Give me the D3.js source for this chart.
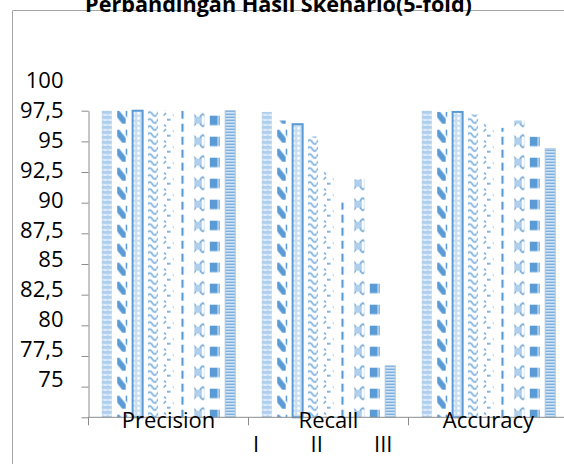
<!DOCTYPE html>
<html>
<head>
<meta charset="utf-8">
<script src="https://cdn.jsdelivr.net/npm/d3@7"></script>
<style>
  html, body { margin: 0; padding: 0; background: #fff; overflow: hidden; }
  svg { display: block; }
  svg text { font-family: "Open Sans", "DejaVu Sans", sans-serif; fill: #000; }
</style>
</head>
<body>
<svg id="chart" width="564" height="464"></svg>
<script>
// ---- data ----
const title = "Perbandingan Hasil Skenario(5-fold)";
const categories = ["Precision", "Recall", "Accuracy"];
const scenarios = ["I", "II", "III", "IV", "V", "VI", "VII", "VIII", "IX"];
const precision = [100, 100, 100, 100, 100, 100, 100, 100, 100];
const recall    = [99.9, 99.2, 98.9, 97.9, 95.2, 92.5, 94.4, 86.1, 79.2];
const accuracy  = [100, 99.9, 99.9, 99.7, 99.0, 98.6, 99.2, 97.9, 96.9];
const yTicks = [75, 77.5, 80, 82.5, 85, 87.5, 90, 92.5, 95, 97.5, 100];
const legendLabels = ["I", "II", "III"];

const table = categories.map((c, i) => ({
  category: c,
  values: [precision, recall, accuracy][i]
}));

// ---- layout ----
const W = 564, H = 464;
const svg = d3.select("#chart").attr("viewBox", `0 0 ${W} ${H}`);
const plotTop = 110.7, plotBottom = 417.3, plotLeft = 88.5;
const bandStep = 160;

const y = d3.scaleLinear().domain([75, 100]).range([plotBottom, plotTop]);
// tick labels sit on their own (slightly tighter) baseline grid
const yLabel = d3.scaleLinear().domain([75, 100]).range([387, 88]);
const x0 = d3.scaleBand().domain(categories)
  .range([plotLeft, plotLeft + bandStep * categories.length]).padding(0);
const x1 = d3.scaleBand().domain(scenarios)
  .range([0, bandStep]).paddingInner(0.35).paddingOuter(0.86);

const locale = d3.formatLocale({ decimal: ",", thousands: ".", grouping: [3], currency: ["", ""] });
const fmt = v => locale.format(Number.isInteger(v) ? "d" : ".1f")(v);

const dark = "#5B9BD5", pale = "#C6DDF2";

// ---- fill patterns, one per scenario ----
const defs = svg.append("defs");
function pattern(id, i, w, h, draw) {
  const p = defs.append("pattern")
    .attr("id", id)
    .attr("patternUnits", "userSpaceOnUse")
    .attr("x", x0(categories[0]) + x1(scenarios[i]))
    .attr("y", plotTop)
    .attr("width", w).attr("height", h);
  p.append("rect").attr("width", w).attr("height", h).attr("fill", "#fff");
  draw(p);
}
// I: light blocks
pattern("p0", 0, 5, 5, p => {
  p.append("rect").attr("x", 0).attr("y", 0).attr("width", 10).attr("height", 3.6).attr("fill", "#AFCFEC");
  p.append("rect").attr("x", 1).attr("y", 3.6).attr("width", 3).attr("height", 1.4).attr("fill", "#D5E6F6");
});
// II: bold downward diagonal dashes
pattern("p1", 1, 10, 19, p => {
  p.append("path").attr("d", "M0,0 L3.5,0 L10,8 L10,13 L6.5,13 L0,5 Z").attr("fill", dark);
});
// III: chain of small rings
pattern("p2", 2, 5, 5, p => {
  p.append("rect").attr("width", 5).attr("height", 5).attr("fill", pale);
  p.append("circle").attr("cx", 2.5).attr("cy", 2.5).attr("r", 1.5).attr("fill", "#fff");
});
// IV: waves
pattern("p3", 3, 10, 7, p => {
  p.append("path").attr("d", "M0,4 C2,0.5 4,0.5 5.5,3 S8.5,6.5 10,4")
    .attr("fill", "none").attr("stroke", "#6FA8DC").attr("stroke-width", 1.5);
});
// V: scattered small dashes
pattern("p4", 4, 10, 16, p => {
  p.append("path").attr("d", "M1,5 L4,2.5 M5,9 L8.5,9 M2,14 L4,15.5")
    .attr("fill", "none").attr("stroke", dark).attr("stroke-width", 1.5);
});
// VI: dashed vertical
pattern("p5", 5, 10, 13, p => {
  p.append("rect").attr("x", 4).attr("y", 0).attr("width", 2.2).attr("height", 8).attr("fill", dark);
});
// VII: shingles
pattern("p6", 6, 10, 21, p => {
  p.append("path").attr("d", "M1,6 L9,6 L9,13 L1,13 Z").attr("fill", "#AFCFEC");
  p.append("path").attr("d", "M0,3 L3,6 M10,3 L7,6 M0,16 L3,13 M10,16 L7,13")
    .attr("fill", "none").attr("stroke", dark).attr("stroke-width", 1.4);
});
// VIII: large squares
pattern("p7", 7, 10, 21, p => {
  p.append("rect").attr("x", 0.5).attr("y", 5).attr("width", 9).attr("height", 9.5).attr("fill", dark);
});
// IX: narrow horizontal stripes
pattern("p8", 8, 10, 3, p => {
  p.append("rect").attr("x", 0).attr("y", 0).attr("width", 10).attr("height", 1.3).attr("fill", dark);
  p.append("rect").attr("x", 0).attr("y", 1.3).attr("width", 10).attr("height", 1.7).attr("fill", "#D3E4F5");
});

// ---- chart frame (left and top edges of the chart box) ----
svg.append("rect").attr("width", W).attr("height", H).attr("fill", "#fff");
svg.append("path")
  .attr("d", `M12.5,${H} V10.5 H${W}`)
  .attr("fill", "none").attr("stroke", "#A6A6A6").attr("stroke-width", 1);

// ---- bars ----
const groups = svg.append("g").selectAll("g")
  .data(table).join("g")
  .attr("transform", d => `translate(${x0(d.category)},0)`);

groups.selectAll("rect")
  .data(d => d.values.map((v, i) => ({ scenario: scenarios[i], i, value: v })))
  .join("rect")
  .attr("x", d => x1(d.scenario))
  .attr("y", d => y(d.value))
  .attr("width", x1.bandwidth())
  .attr("height", d => y(75) - y(d.value))
  .attr("fill", d => `url(#p${d.i})`)
  .attr("stroke", d => d.i === 2 ? dark : (d.i === 8 ? "#A9C6E4" : "none"))
  .attr("stroke-width", d => d.i === 2 ? 2 : 1);

// ---- y axis ----
const yAxis = svg.append("g")
  .attr("transform", `translate(${plotLeft},0)`)
  .call(d3.axisLeft(y).tickValues(yTicks).tickSize(7).tickSizeOuter(0).tickFormat(""));
yAxis.selectAll("path, line").attr("stroke", "#8C8C8C").attr("stroke-width", 1);

svg.append("g").selectAll("text")
  .data(yTicks).join("text")
  .attr("x", 63.5)
  .attr("y", d => yLabel(d))
  .attr("text-anchor", "end")
  .attr("font-size", 22)
  .text(fmt);

// ---- x axis ----
svg.append("line")
  .attr("x1", plotLeft).attr("x2", W)
  .attr("y1", plotBottom).attr("y2", plotBottom)
  .attr("stroke", "#8C8C8C");

svg.append("g").selectAll("line")
  .data(categories).join("line")
  .attr("x1", d => x0(d)).attr("x2", d => x0(d))
  .attr("y1", plotBottom).attr("y2", plotBottom + 8)
  .attr("stroke", "#8C8C8C");

svg.append("g").selectAll("text")
  .data(categories).join("text")
  .attr("x", d => x0(d) + x0.bandwidth() / 2)
  .attr("y", 427.7)
  .attr("text-anchor", "middle")
  .attr("font-size", 22)
  .text(d => d);

// scenario labels under the middle group
const legendX = [256, 316.7, 383.3];
svg.append("g").selectAll("text")
  .data(legendLabels).join("text")
  .attr("x", (d, i) => legendX[i])
  .attr("y", 451.7)
  .attr("text-anchor", "middle")
  .attr("font-size", 22)
  .text(d => d);

// ---- title ----
const t = svg.append("text")
  .attr("x", 278.5).attr("y", 12)
  .attr("text-anchor", "middle")
  .attr("font-weight", "bold")
  .attr("font-size", 22)
  .text(title);
const w = t.node().getComputedTextLength();
if (w > 0) t.attr("font-size", 22 * 387 / w);
</script>
</body>
</html>
